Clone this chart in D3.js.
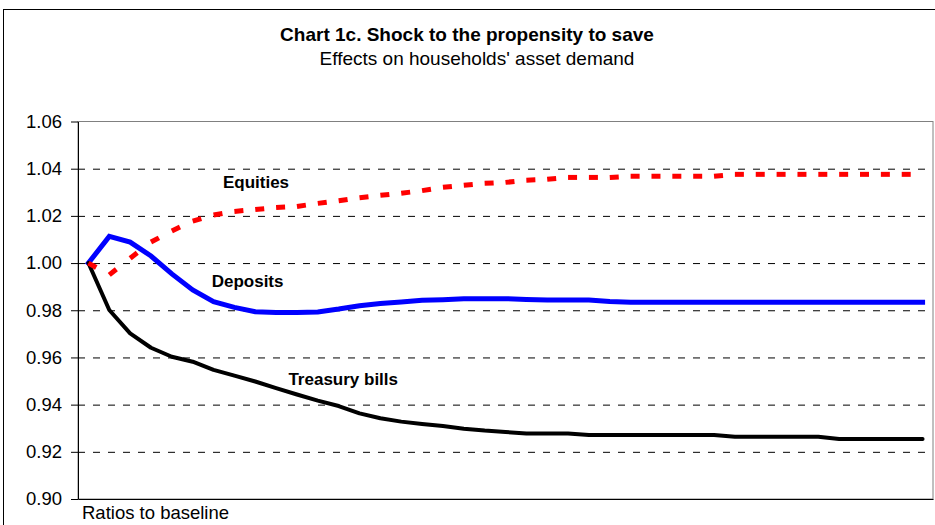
<!DOCTYPE html>
<html>
<head>
<meta charset="utf-8">
<script src="https://cdn.jsdelivr.net/npm/d3@7"></script>
<style>
  body { margin: 0; background: #fff; }
  svg { display: block; font-family: "Liberation Sans", Arial, sans-serif; }
  .grid line { stroke: #000; stroke-dasharray: 7,8; }
  .grid path { display: none; }
  .axis path, .axis line { stroke: #000; }
</style>
</head>
<body>
<div id="app"></div>
<script>
// categories (quarters after the shock, unlabelled on the chart)
const periods = d3.range(41);

const equities = [
  1.000, 0.995, 1.002, 1.0089, 1.0136, 1.0178, 1.0204, 1.0219, 1.0227, 1.0235,
  1.0240, 1.0253, 1.0264, 1.0277, 1.0287, 1.0296, 1.0307, 1.0321, 1.0330, 1.0338,
  1.0342, 1.0351, 1.0355, 1.0363, 1.0363, 1.0363, 1.0368, 1.0368, 1.0368, 1.0368,
  1.0368, 1.0376, 1.0376, 1.0376, 1.0376, 1.0376, 1.0376, 1.0376, 1.0376, 1.0376,
  1.0376
];

const deposits = [
  1.000, 1.0113, 1.0089, 1.0030, 0.9954, 0.9886, 0.9836, 0.9812, 0.9794, 0.9790,
  0.9790, 0.9793, 0.9805, 0.9819, 0.9829, 0.9835, 0.9842, 0.9845, 0.9849, 0.9849,
  0.9849, 0.9846, 0.9843, 0.9843, 0.9843, 0.9837, 0.9834, 0.9834, 0.9834, 0.9834,
  0.9834, 0.9834, 0.9834, 0.9834, 0.9834, 0.9834, 0.9834, 0.9834, 0.9834, 0.9834,
  0.9834
];

const treasuryBills = [
  1.000, 0.9801, 0.9702, 0.9641, 0.9603, 0.9582, 0.9547, 0.9523, 0.9498, 0.9470,
  0.9443, 0.9417, 0.9394, 0.9363, 0.9342, 0.9328, 0.9318, 0.9309, 0.9298, 0.9290,
  0.9284, 0.9278, 0.9278, 0.9278, 0.9271, 0.9271, 0.9271, 0.9271, 0.9271, 0.9271,
  0.9271, 0.9264, 0.9264, 0.9264, 0.9264, 0.9264, 0.9254, 0.9254, 0.9254, 0.9254,
  0.9254
];

const yTicks = [0.90, 0.92, 0.94, 0.96, 0.98, 1.00, 1.02, 1.04, 1.06];
const gridTicks = [0.92, 0.94, 0.96, 0.98, 1.00, 1.02, 1.04];

// series label anchors, in data units (period index, value)
const seriesLabels = [
  { text: 'Equities', at: [6.45, 1.0317] },
  { text: 'Deposits', at: [5.91, 0.9900] },
  { text: 'Treasury bills', at: [9.59, 0.9483] }
];

const svg = d3.select('#app').append('svg')
  .attr('width', 935)
  .attr('height', 525);

const margin = { top: 121.5, right: 2, bottom: 26, left: 78 };
const width = +svg.attr('width') - margin.left - margin.right;
const height = +svg.attr('height') - margin.top - margin.bottom;

// outer chart frame
svg.append('rect')
  .attr('x', 3.5).attr('y', 9.5)
  .attr('width', 960).attr('height', 560)
  .attr('fill', 'none')
  .attr('stroke', '#000');

svg.append('text')
  .attr('x', 467).attr('y', 41)
  .attr('text-anchor', 'middle')
  .attr('font-size', 19)
  .attr('font-weight', 'bold')
  .text('Chart 1c. Shock to the propensity to save');

svg.append('text')
  .attr('x', 477).attr('y', 65)
  .attr('text-anchor', 'middle')
  .attr('font-size', 19)
  .text("Effects on households' asset demand");

const g = svg.append('g')
  .attr('transform', `translate(${margin.left},${margin.top})`);

const x = d3.scalePoint()
  .domain(periods)
  .range([0, width])
  .padding(0.5);

const xi = d3.scaleLinear()
  .domain([0, periods.length - 1])
  .range([x(periods[0]), x(periods[periods.length - 1])]);

const y = d3.scaleLinear()
  .domain([0.90, 1.06])
  .range([height, 0]);

// plot area border (grey)
g.append('rect')
  .attr('x', 0).attr('y', 0)
  .attr('width', width).attr('height', height)
  .attr('fill', 'none')
  .attr('stroke', '#808080');

g.append('g')
  .attr('class', 'grid')
  .call(d3.axisLeft(y)
    .tickValues(gridTicks)
    .tickSize(-width + 3)
    .tickFormat('')
  );

const line = d3.line()
  .x(d => x(d.p))
  .y(d => y(d.v));

const toPts = arr => arr.map((v, i) => ({ p: periods[i], v }));

g.append('path')
  .datum(toPts(deposits))
  .attr('d', line)
  .attr('fill', 'none')
  .attr('stroke', '#0000ff')
  .attr('stroke-width', 5)
  .attr('stroke-linecap', 'square');

g.append('path')
  .datum(toPts(treasuryBills))
  .attr('d', line)
  .attr('fill', 'none')
  .attr('stroke', '#000')
  .attr('stroke-width', 4)
  .attr('stroke-linejoin', 'round')
  .attr('stroke-linecap', 'round');

// equities: dash pattern restarts on every segment, as in the original
const eqPts = toPts(equities);
g.append('g')
  .selectAll('path')
  .data(d3.pairs(eqPts))
  .enter().append('path')
    .attr('d', line)
    .attr('fill', 'none')
    .attr('stroke', '#ff0000')
    .attr('stroke-width', 5)
    .attr('stroke-dasharray', '9,100');

g.selectAll('.slabel')
  .data(seriesLabels)
  .enter().append('text')
    .attr('class', 'slabel')
    .attr('x', d => xi(d.at[0]))
    .attr('y', d => y(d.at[1]))
    .attr('font-size', 17)
    .attr('font-weight', 'bold')
    .text(d => d.text);

g.append('g')
  .attr('class', 'axis axis--y')
  .call(d3.axisLeft(y)
    .tickValues(yTicks)
    .tickSize(7)
    .tickSizeOuter(0)
    .tickPadding(9)
    .tickFormat(d3.format('.2f'))
  )
  .call(ax => ax.selectAll('text')
    .attr('font-size', 18.5)
    .attr('font-family', '"Liberation Sans", Arial, sans-serif')
    .attr('fill', '#000'));

g.append('g')
  .attr('class', 'axis axis--x')
  .attr('transform', `translate(0,${height})`)
  .call(d3.axisBottom(x).tickValues([]).tickSizeOuter(0));

g.append('text')
  .attr('x', 4)
  .attr('y', height + 20)
  .attr('font-size', 18.5)
  .text('Ratios to baseline');
</script>
</body>
</html>
